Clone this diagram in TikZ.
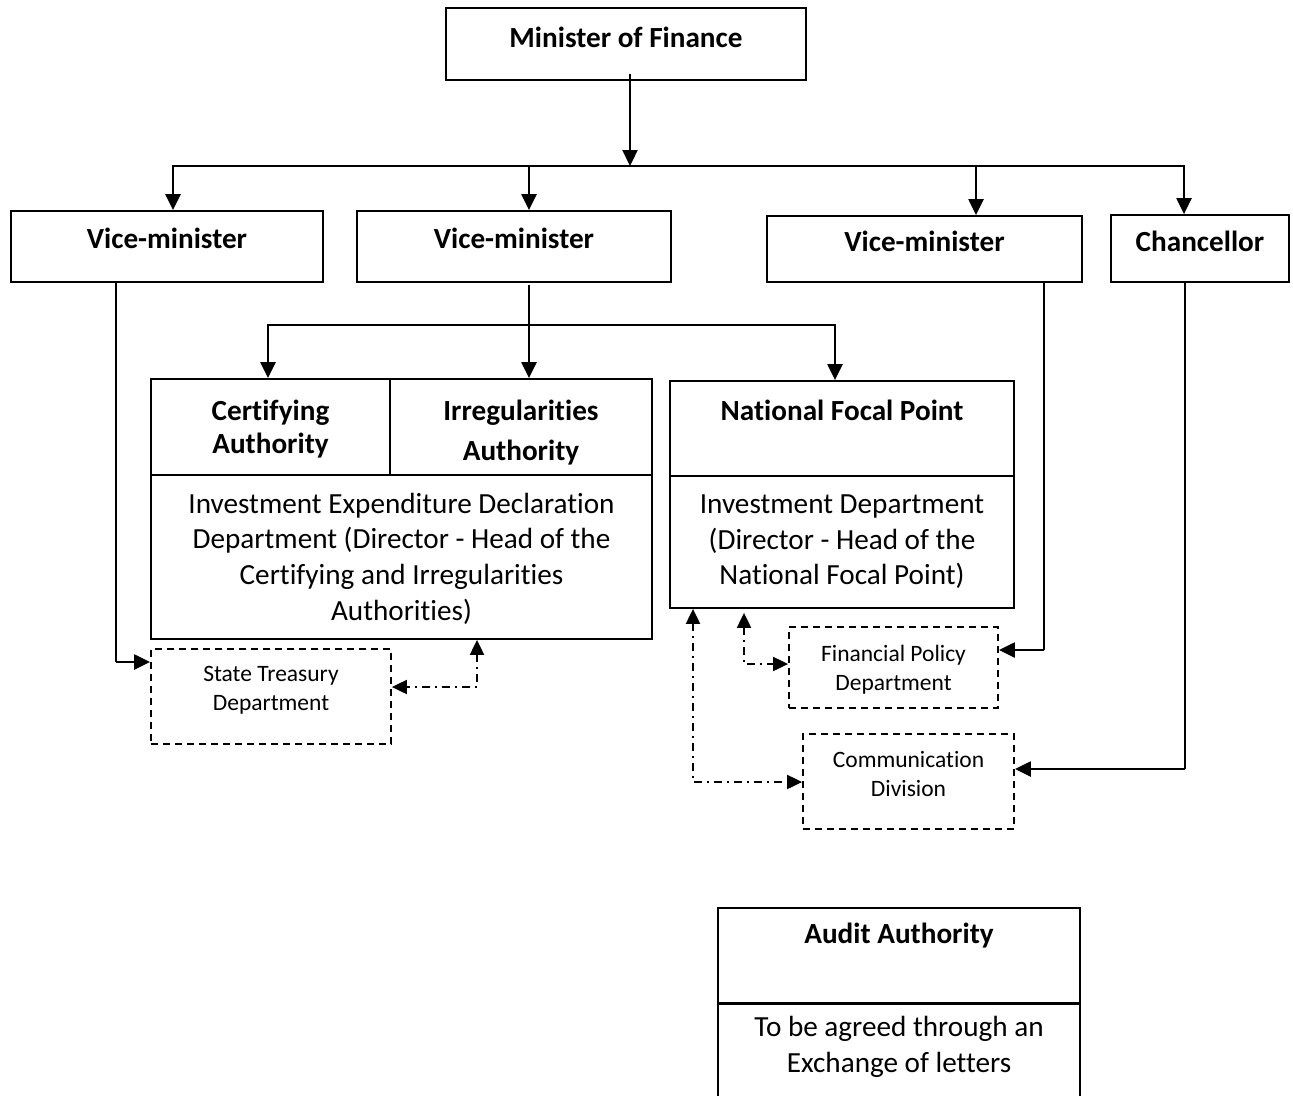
\documentclass[tikz,border=0pt]{standalone}
\usepackage{fontspec}
\setmainfont{Carlito}[Ligatures={NoCommon}]
\usetikzlibrary{arrows.meta}
\begin{document}
\begin{tikzpicture}[x=1pt,y=-1pt,
 box/.style={draw, line width=1.8pt, inner sep=0pt, rectangle},
 dbox/.style={box, dash pattern=on 7pt off 5pt},
 tb/.style={anchor=base, inner sep=0pt, font=\fontsize{29.2}{35.7}\selectfont\bfseries},
 tr/.style={anchor=base, inner sep=0pt, font=\fontsize{29.2}{35.7}\selectfont},
 ts/.style={anchor=base, inner sep=0pt, font=\fontsize{23.5}{28.7}\selectfont},
 thinln/.style={line width=1.4pt},
 thickln/.style={line width=2.3pt},
 arr/.style={thickln, -{Triangle[length=16pt,width=15pt]}},
 dd/.style={line width=2pt, dash pattern=on 8pt off 5pt on 2pt off 5pt, {Triangle[length=15pt,width=14pt]}-{Triangle[length=15pt,width=14pt]}}
]
\useasboundingbox (0,0) rectangle (1293,1095);
\begin{scope}
\clip (0,0) rectangle (1293,1095);
% boxes
\node[box, minimum width=360pt, minimum height=72pt] (min) at (626,44) {};
\node[box, minimum width=312pt, minimum height=71pt] (vm1) at (167,246.5) {};
\node[box, minimum width=314pt, minimum height=71pt] (vm2) at (514,246.5) {};
\node[box, minimum width=315pt, minimum height=66pt] (vm3) at (924.5,249) {};
\node[box, minimum width=178pt, minimum height=67pt] (chan) at (1200,248.5) {};
\node[box, minimum width=239pt, minimum height=96pt] (ca) at (270.5,427) {};
\node[box, minimum width=262pt, minimum height=96pt] (ia) at (521,427) {};
\node[box, minimum width=501pt, minimum height=164pt] (ied) at (401.5,557) {};
\node[box, minimum width=344pt, minimum height=95pt] (nfp) at (842,428.5) {};
\node[box, minimum width=344pt, minimum height=132pt] (inv) at (842,542) {};
\node[dbox, minimum width=240pt, minimum height=95pt] (st) at (271,696.5) {};
\node[dbox, minimum width=209pt, minimum height=81pt] (fp) at (893.5,667.5) {};
\node[dbox, minimum width=211pt, minimum height=95pt] (com) at (908.5,781.5) {};
\node[box, minimum width=362pt, minimum height=95pt, anchor=north] (aa) at (899,907) {};
\node[box, minimum width=362pt, minimum height=130pt, anchor=north] (etl) at (899,1003.5) {};
\end{scope}
% texts
\node[tb] (tmin) at (626,47) {Minister of Finance};
\node[tb] (tvm1) at (167,248) {Vice-minister};
\node[tb] (tvm2) at (514,248) {Vice-minister};
\node[tb] (tvm3) at (924.5,251.5) {Vice-minister};
\node[tb] (tchan) at (1200,251.5) {Chancellor};
\node[tb] (tca1) at (270.5,420) {Certifying};
\node[tb] (tca2) at (270.5,453) {Authority};
\node[tb] (tia1) at (521,420) {Irregularities};
\node[tb] (tia2) at (521,460) {Authority};
\node[tr] (tied1) at (401.5,513) {Investment Expenditure Declaration};
\node[tr] (tied2) at (401.5,548.7) {Department (Director - Head of the};
\node[tr] (tied3) at (401.5,584.4) {Certifying and Irregularities};
\node[tr] (tied4) at (401.5,620.1) {Authorities)};
\node[tb] (tnfp) at (842,420) {National Focal Point};
\node[tr] (tinv1) at (842,513.3) {Investment Department};
\node[tr] (tinv2) at (842,549) {(Director - Head of the};
\node[tr] (tinv3) at (842,584.7) {National Focal Point)};
\node[ts] (tst1) at (271,681.7) {State Treasury};
\node[ts] (tst2) at (271,710) {Department};
\node[ts] (tfp1) at (893.5,661.7) {Financial Policy};
\node[ts] (tfp2) at (893.5,690) {Department};
\node[ts] (tcom1) at (908.5,767.3) {Communication};
\node[ts] (tcom2) at (908.5,796.7) {Division};
\node[tb] (taa) at (899,943.3) {Audit Authority};
\node[tr] (tetl1) at (899,1036.7) {To be agreed through an};
\node[tr] (tetl2) at (899,1072.7) {Exchange of letters};
% top bus
\coordinate (mb) at (630,166);
\coordinate (b1) at (173,166);
\coordinate (b2) at (529,166);
\coordinate (b3) at (976,166);
\coordinate (b4) at (1184,166);
\draw[arr] ([yshift=7pt]min.south -| mb) -- (mb);
\draw[arr] (mb) -- (b1) -- (b1 |- vm1.north);
\draw[arr] (mb) -- (b4) -- (b4 |- chan.north);
\draw[arr] (b2) -- (b2 |- vm2.north);
\draw[arr] (b3) -- (b3 |- vm3.north);
% second bus
\coordinate (c1) at (268,325);
\coordinate (c2) at (529,325);
\coordinate (c3) at (835,325);
\draw[thinln] ([yshift=-2pt]vm2.south -| c2) -- (c2);
\draw[arr] (c2) -- (c1) -- (c1 |- ca.north);
\draw[arr] (c2) -- (c3) -- (c3 |- nfp.north);
\draw[arr] (c2) -- (c2 |- ia.north);
% side lines
\coordinate (d1) at (116,662);
\coordinate (d2) at (1044,650);
\coordinate (d3) at (1185,769);
\draw[thinln] (vm1.south -| d1) -- (d1);
\draw[arr] (d1) -- (d1 -| st.west);
\draw[thinln] (vm3.south -| d2) -- (d2);
\draw[arr] (d2) -- (d2 -| fp.east);
\draw[thinln] (chan.south -| d3) -- (d3);
\draw[arr] (d3) -- (d3 -| com.east);
% dash-dot links
\coordinate (e1) at (477,687);
\coordinate (e2) at (693,782);
\coordinate (e3) at (744,664);
\draw[dd] (ied.south -| e1) -- (e1) -- (e1 -| st.east);
\draw[dd] (inv.south -| e2) -- (e2) -- (e2 -| com.west);
\draw[dd] ([yshift=-4pt]inv.south -| e3) -- (e3) -- (e3 -| fp.west);
\end{tikzpicture}
\end{document}
